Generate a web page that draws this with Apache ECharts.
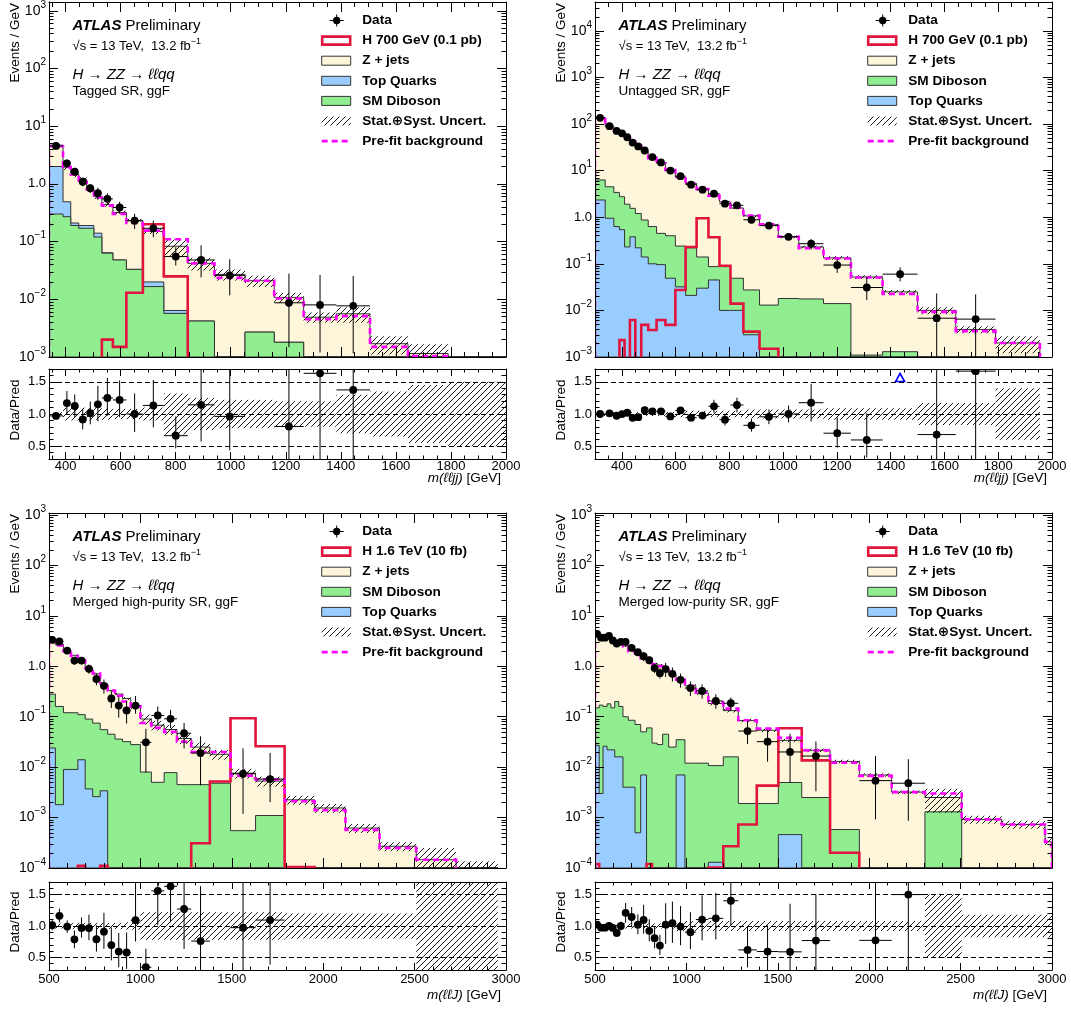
<!DOCTYPE html>
<html>
<head>
<meta charset="utf-8">
<script src="https://cdn.jsdelivr.net/npm/echarts@6/dist/echarts.min.js"></script>
<style>
html, body { margin: 0; padding: 0; background: #fff; }
#chart { width: 1071px; height: 1015px; }
</style>
</head>
<body>
<div id="chart"></div>
<script>
// ---------------- Tagged SR, ggF (top left) ----------------
var tagEdges = [340, 391, 419, 448, 477, 503, 532, 572, 621, 681, 757, 844, 941, 1052, 1158, 1265, 1384, 1506, 1644, 1790, 2000];
var tagZjets = [2.69, 1.45, 1.24, 1.0, 0.64, 0.46, 0.376, 0.272, 0.197, 0.13, 0.0766, 0.0378, 0.027, 0.0183, 0.009, 0.0049, 0.0056, 0.0017, 0.00115, 0];
var tagTop = [1.7, 0.22, 0.02, 0.02, 0.02, 0.02, 0.001, 0, 0, 0.0034, 0.0007, 0, 0, 0, 0, 0, 0, 0, 0, 0];
var tagDiboson = [0.30, 0.27, 0.19, 0.17, 0.17, 0.12, 0.063, 0.048, 0.033, 0.0166, 0.0057, 0.0042, 0, 0.0027, 0.0018, 0, 0, 0, 0, 0];
var tagSignal = [0, 0, 0, 0, 0, 0, 0.002, 0.0015, 0.013, 0.2, 0.025, 0, 0, 0, 0, 0, 0, 0, 0, 0];
var tagPrefit = [4.5, 1.95, 1.45, 1.08, 0.8, 0.58, 0.42, 0.3, 0.21, 0.155, 0.11, 0.042, 0.0235, 0.021, 0.0103, 0.0045, 0.0051, 0.0015, 0.00104, 0];
var tagUnc = [0.03, 0.1, 0.1, 0.1, 0.1, 0.09, 0.09, 0.08, 0.08, 0.1, 0.32, 0.25, 0.22, 0.22, 0.2, 0.2, 0.3, 0.35, 0.45, 0.5];
var tagData = [4.55, 2.27, 1.63, 1.09, 0.84, 0.69, 0.55, 0.39, 0.23, 0.17, 0.055, 0.048, 0.026, null, 0.0087, 0.008, 0.0077, null, null, null];
var tagErrLo = [0.03, 0.15, 0.15, 0.17, 0.17, 0.23, 0.22, 0.22, 0.28, 0.3, 0.3, 0.5, 0.55, 0, 0.83, 0.85, 0.85, 0, 0, 0];
var tagErrHi = [0.03, 0.16, 0.16, 0.18, 0.18, 0.25, 0.25, 0.25, 0.32, 0.35, 0.45, 0.8, 0.9, 0, 2.2, 2.3, 2.3, 0, 0, 0];

// ---------------- Untagged SR, ggF (top right) ----------------
var untEdges = [300, 338, 370, 391, 410, 430, 450, 472, 498, 529, 562, 599, 637, 678, 722, 763, 804, 852, 912, 982, 1058, 1150, 1252, 1370, 1500, 1642, 1790, 1955];
var untZjets = [129.7, 84.5, 69.6, 60.3, 49.1, 41.0, 33.5, 24.6, 18.1, 13.95, 10.0, 6.96, 5.08, 3.86, 2.77, 2.05, 1.53, 1.04, 0.677, 0.362, 0.212, 0.12, 0.0509, 0.0237, 0.01, 0.0039, 0.002];
var untDiboson = [3.96, 3.55, 2.77, 2.21, 1.67, 1.17, 0.98, 0.73, 0.53, 0.354, 0.351, 0.208, 0.199, 0.11, 0.042, 0.077, 0.039, 0.0245, 0.013, 0.018, 0.0176, 0.014, 0.0011, 0.0013, 0, 0, 0];
var untTop = [2.34, 0.95, 0.63, 0.54, 0.23, 0.38, 0.22, 0.14, 0.1, 0.096, 0.049, 0.032, 0.021, 0.03, 0.045, 0.01, 0.01, 0.003, 0, 0, 0, 0, 0, 0, 0, 0, 0];
var untSignal = [0, 0, 0, 0.0023, 0, 0.0062, 0, 0.0049, 0.0038, 0.0062, 0.0049, 0.0275, 0.23, 0.95, 0.37, 0.091, 0.014, 0.0035, 0.0015, 0, 0, 0, 0, 0, 0, 0, 0];
var untPrefit = [138, 90, 73, 63, 51, 42, 34, 25.5, 18.5, 14.3, 10.3, 7.2, 5.3, 4.0, 2.9, 2.1, 1.6, 1.08, 0.7, 0.38, 0.215, 0.13, 0.051, 0.0225, 0.0093, 0.0036, 0.002];
var untUnc = [0.03, 0.03, 0.03, 0.03, 0.03, 0.03, 0.03, 0.03, 0.03, 0.03, 0.03, 0.05, 0.05, 0.05, 0.05, 0.05, 0.05, 0.07, 0.07, 0.07, 0.07, 0.09, 0.09, 0.09, 0.17, 0.17, 0.4];
var untData = [136, 90, 71, 63, 52, 40, 33, 27, 19.5, 15, 10, 7.6, 5.0, 3.9, 3.2, 1.95, 1.8, 0.88, 0.66, 0.38, 0.27, 0.094, 0.031, 0.06, 0.0068, 0.0065, null];
var untErrLo = [0.01, 0.01, 0.015, 0.015, 0.015, 0.02, 0.02, 0.02, 0.025, 0.03, 0.035, 0.04, 0.045, 0.05, 0.09, 0.1, 0.1, 0.12, 0.12, 0.13, 0.25, 0.32, 0.46, 0.3, 0.85, 0.85, 0];
var untErrHi = [0.01, 0.01, 0.015, 0.015, 0.015, 0.02, 0.02, 0.02, 0.025, 0.03, 0.035, 0.04, 0.045, 0.05, 0.09, 0.1, 0.1, 0.12, 0.12, 0.13, 0.25, 0.35, 0.7, 0.4, 2.4, 2.4, 0];

// ---------------- Merged high-purity SR, ggF (bottom left) ----------------
var hpEdges = [500, 535, 579, 620, 658, 698, 739, 780, 821, 861, 902, 947, 1000, 1060, 1130, 1200, 1278, 1380, 1493, 1630, 1789, 1953, 2122, 2308, 2509, 2727, 2955];
var hpZjets = [3.02, 2.51, 1.95, 1.53, 1.23, 0.83, 0.635, 0.395, 0.285, 0.244, 0.198, 0.124, 0.082, 0.063, 0.048, 0.0325, 0.0205, 0.0132, 0.00705, 0.0042, 0.00225, 0.00155, 0.00062, 0.00027, 0.000146, 0.00008];
var hpDiboson = [0.256, 0.158, 0.111, 0.111, 0.096, 0.086, 0.072, 0.052, 0.045, 0.036, 0.032, 0.028, 0.008, 0.005, 0.0078, 0.0045, 0.0045, 0.0048, 0.00055, 0.0011, 0, 0, 0, 0, 0, 0];
var hpTop = [0.024, 0.0018, 0.009, 0.009, 0.014, 0.0037, 0.0026, 0.0034, 0, 0, 0, 0, 0, 0, 0, 0, 0, 0, 0, 0, 0, 0, 0, 0, 0, 0];
var hpSignal = [0, 0, 0, 0, 0.00011, 0, 0, 0.00011, 0, 0, 0, 0, 0, 0, 0, 0, 0.00031, 0.0052, 0.093, 0.026, 0.000105, 0, 0, 0, 0, 0];
var hpPrefit = [3.2, 2.6, 2.0, 1.6, 1.3, 0.92, 0.72, 0.46, 0.33, 0.26, 0.2, 0.16, 0.075, 0.06, 0.05, 0.032, 0.02, 0.02, 0.0068, 0.0057, 0.0021, 0.0014, 0.00057, 0.00025, 0.000146, 0];
var hpUnc = [0.04, 0.04, 0.05, 0.05, 0.05, 0.05, 0.05, 0.05, 0.05, 0.05, 0.06, 0.06, 0.22, 0.22, 0.22, 0.22, 0.22, 0.22, 0.22, 0.22, 0.2, 0.2, 0.2, 0.2, 0.7, 0.7];
var hpData = [3.34, 3.1, 2.05, 1.3, 1.3, 0.89, 0.56, 0.41, 0.23, 0.166, 0.133, 0.166, 0.031, 0.106, 0.091, 0.047, 0.019, null, 0.0074, 0.0058, null, null, null, null, null, null];
var hpErrLo = [0.08, 0.09, 0.1, 0.18, 0.16, 0.2, 0.25, 0.3, 0.35, 0.42, 0.45, 0.31, 0.75, 0.35, 0.35, 0.5, 0.77, 0, 0.84, 0.65, 0, 0, 0, 0, 0, 0];
var hpErrHi = [0.08, 0.1, 0.1, 0.18, 0.17, 0.22, 0.28, 0.33, 0.4, 0.5, 0.55, 0.55, 0.86, 0.5, 0.5, 0.6, 1.15, 0, 2.2, 2.3, 0, 0, 0, 0, 0, 0];

// ---------------- Merged low-purity SR, ggF (bottom right) ----------------
var lpEdges = [500, 523, 544, 566, 587, 608, 630, 653, 682, 719, 750, 782, 812, 840, 870, 903, 944, 992, 1052, 1120, 1202, 1284, 1385, 1503, 1631, 1786, 1946, 2123, 2305, 2506, 2725, 2962, 3000];
var lpZjets = [4.15, 3.63, 3.64, 3.82, 3.2, 2.98, 2.9, 2.43, 1.945, 1.79, 1.39, 1.37, 1.11, 1.032, 0.815, 0.655, 0.51, 0.398, 0.283, 0.172, 0.116, 0.082, 0.052, 0.029, 0.0191, 0.0124, 0.007, 0.0032, 0.0012, 0.00092, 0.00073, 0.00033];
var lpDiboson = [0.123, 0.167, 0.134, 0.158, 0.128, 0.184, 0.144, 0.096, 0.081, 0.0695, 0.043, 0.06, 0.03, 0.028, 0.045, 0.025, 0.028, 0.012, 0.012, 0.0106, 0.016, 0.0019, 0.0019, 0.0045, 0.0025, 0.00058, 0, 0, 0.0013, 0, 0, 0];
var lpTop = [0.027, 0.003, 0.026, 0.022, 0.022, 0.016, 0.016, 0.004, 0.004, 0.0005, 0.007, 0, 0, 0, 0, 0, 0.007, 0, 0, 0.00013, 0, 0, 0, 0.00046, 0, 0, 0, 0, 0, 0, 0, 0];
var lpSignal = [0.00012, 0, 0, 0, 0, 0, 0, 0, 0, 0, 0, 0.00012, 0, 0, 0, 0, 0, 0, 0, 0.000102, 0.00027, 0.00073, 0.0043, 0.059, 0.0136, 0.0002, 0, 0, 0, 0, 0, 0];
var lpPrefit = [4.3, 3.8, 3.75, 3.9, 3.3, 3.1, 3.0, 2.5, 2.0, 1.8, 1.45, 1.38, 1.1, 1.0, 0.85, 0.68, 0.54, 0.41, 0.3, 0.19, 0.145, 0.085, 0.058, 0.038, 0.0215, 0.0122, 0.0067, 0.0032, 0.003, 0.00092, 0.00073, 0.00033];
var lpUnc = [0.04, 0.04, 0.04, 0.04, 0.04, 0.04, 0.04, 0.04, 0.04, 0.04, 0.04, 0.04, 0.04, 0.04, 0.04, 0.04, 0.08, 0.08, 0.08, 0.08, 0.08, 0.08, 0.08, 0.08, 0.08, 0.08, 0.08, 0.08, 0.5, 0.18, 0.18, 0.18];
var lpData = [4.4, 3.7, 3.7, 4.0, 3.25, 2.83, 3.06, 3.06, 2.32, 1.9, 1.58, 1.32, 0.92, 0.73, 0.88, 0.71, 0.54, 0.37, 0.325, 0.205, 0.185, 0.052, 0.032, 0.02, 0.0166, null, 0.0054, 0.0048, null, null, null, null];
var lpErrLo = [0.05, 0.05, 0.05, 0.06, 0.06, 0.07, 0.07, 0.13, 0.14, 0.15, 0.2, 0.18, 0.2, 0.22, 0.3, 0.3, 0.3, 0.3, 0.3, 0.3, 0.28, 0.45, 0.6, 0.75, 0.8, 0, 0.83, 0.82, 0, 0, 0, 0];
var lpErrHi = [0.05, 0.05, 0.05, 0.06, 0.06, 0.07, 0.07, 0.13, 0.14, 0.16, 0.22, 0.2, 0.22, 0.25, 0.33, 0.33, 0.33, 0.35, 0.35, 0.36, 0.3, 0.6, 0.7, 1.3, 0.95, 0, 2.1, 2.0, 0, 0, 0, 0];

// ---------------- tick labels ----------------
var xTicksLow = [400, 600, 800, 1000, 1200, 1400, 1600, 1800, 2000];
var xTicksHigh = [500, 1000, 1500, 2000, 2500, 3000];
var yTicksLog = [1e-4, 1e-3, 1e-2, 1e-1, 1, 10, 100, 1000, 10000];
var yTicksRatio = [0.5, 1.0, 1.5];

var FONT = "'Liberation Sans', 'DejaVu Sans', Arial, sans-serif";
var C_ZJ = '#fef6da', C_TOP = '#99ccff', C_DB = '#90ee90', C_SIG = '#e0143c', C_PRE = '#ff00ff';
var RMIN = 0.3, RMAX = 1.7;

function makeHatch() {
    var c = document.createElement('canvas');
    c.width = 6; c.height = 6;
    var g = c.getContext('2d');
    g.strokeStyle = '#000';
    g.lineWidth = 0.9;
    g.beginPath();
    g.moveTo(0, 6); g.lineTo(6, 0);
    g.moveTo(-1, 1); g.lineTo(1, -1);
    g.moveTo(5, 7); g.lineTo(7, 5);
    g.stroke();
    return c;
}
var HATCH_IMG = makeHatch();
function hatch() { return { image: HATCH_IMG, repeat: 'repeat' }; }

var panels = [
    { left: 49, top: 2, mainH: 355, ratioTop: 369, ratioH: 90, xMin: 340, xMax: 2000, yMin: 1e-3, yMax: 1419,
      xMajor: xTicksLow, xStep: 50, edges: tagEdges,
      layers: [{ v: tagDiboson, c: C_DB, name: 'SM Diboson' }, { v: tagTop, c: C_TOP, name: 'Top Quarks' }, { v: tagZjets, c: C_ZJ, name: 'Z + jets' }],
      signal: tagSignal, prefit: tagPrefit, unc: tagUnc, data: tagData, lo: tagErrLo, hi: tagErrHi,
      sigName: 'H 700 GeV (0.1 pb)', region: 'Tagged SR, ggF', xVar: 'm(\u2113\u2113jj)', titleY: 478, labelMargin: 1 },
    { left: 595, top: 2, mainH: 355, ratioTop: 369, ratioH: 90, xMin: 300, xMax: 2000, yMin: 1e-3, yMax: 41500,
      xMajor: xTicksLow, xStep: 50, edges: untEdges,
      layers: [{ v: untTop, c: C_TOP, name: 'Top Quarks' }, { v: untDiboson, c: C_DB, name: 'SM Diboson' }, { v: untZjets, c: C_ZJ, name: 'Z + jets' }],
      signal: untSignal, prefit: untPrefit, unc: untUnc, data: untData, lo: untErrLo, hi: untErrHi,
      sigName: 'H 700 GeV (0.1 pb)', region: 'Untagged SR, ggF', xVar: 'm(\u2113\u2113jj)', titleY: 478, labelMargin: 1 },
    { left: 49, top: 513, mainH: 355, ratioTop: 882, ratioH: 88, xMin: 500, xMax: 3000, yMin: 1e-4, yMax: 1096,
      xMajor: xTicksHigh, xStep: 100, edges: hpEdges,
      layers: [{ v: hpTop, c: C_TOP, name: 'Top Quarks' }, { v: hpDiboson, c: C_DB, name: 'SM Diboson' }, { v: hpZjets, c: C_ZJ, name: 'Z + jets' }],
      signal: hpSignal, prefit: hpPrefit, unc: hpUnc, data: hpData, lo: hpErrLo, hi: hpErrHi,
      sigName: 'H 1.6 TeV (10 fb)', region: 'Merged high-purity SR, ggF', xVar: 'm(\u2113\u2113J)', titleY: 995, labelMargin: 3 },
    { left: 595, top: 513, mainH: 355, ratioTop: 882, ratioH: 88, xMin: 500, xMax: 3000, yMin: 1e-4, yMax: 1096,
      xMajor: xTicksHigh, xStep: 100, edges: lpEdges,
      layers: [{ v: lpTop, c: C_TOP, name: 'Top Quarks' }, { v: lpDiboson, c: C_DB, name: 'SM Diboson' }, { v: lpZjets, c: C_ZJ, name: 'Z + jets' }],
      signal: lpSignal, prefit: lpPrefit, unc: lpUnc, data: lpData, lo: lpErrLo, hi: lpErrHi,
      sigName: 'H 1.6 TeV (10 fb)', region: 'Merged low-purity SR, ggF', xVar: 'm(\u2113\u2113J)', titleY: 995, labelMargin: 3 }
];
var W = 457;

function minorLinear(lo, hi, step, majors) {
    var out = [];
    for (var v = Math.ceil(lo / step - 1e-9) * step; v <= hi + 1e-9; v += step) {
        var r = Math.round(v * 1000) / 1000;
        if (!majors.some(function (m) { return Math.abs(m - r) < 1e-6; })) out.push(r);
    }
    return out;
}
function minorLog(lo, hi) {
    var out = [];
    for (var e = Math.floor(Math.log10(lo)); e <= Math.ceil(Math.log10(hi)); e++) {
        for (var k = 2; k <= 9; k++) {
            var v = k * Math.pow(10, e);
            if (v >= lo && v <= hi) out.push(v);
        }
    }
    return out;
}
function totals(P) {
    var n = P.edges.length - 1, t = [];
    for (var i = 0; i < n; i++) {
        var s = 0;
        P.layers.forEach(function (L) { s += L.v[i]; });
        t.push(s);
    }
    return t;
}

function fmtLog(v) {
    var e = Math.round(Math.log10(v));
    if (e === 0) return '{n|1.0}';
    return '{b|10}{s|' + (e < 0 ? '\u2212' + (-e) : e) + '}';
}
var LOG_RICH = {
    n: { fontSize: 13, fontFamily: FONT, color: '#000', lineHeight: 22 },
    b: { fontSize: 14, fontFamily: FONT, color: '#000', lineHeight: 22 },
    s: { fontSize: 10, fontFamily: FONT, color: '#000', lineHeight: 11, verticalAlign: 'top' }
};

// ---------- step helpers (all points go through the axis scales) ----------
function stepPolygon(api, edges, vals, yMin) {
    var pts = [api.coord([edges[0], yMin])];
    for (var i = 0; i < vals.length; i++) {
        var v = vals[i] > yMin ? vals[i] : yMin;
        pts.push(api.coord([edges[i], v]), api.coord([edges[i + 1], v]));
    }
    pts.push(api.coord([edges[vals.length], yMin]));
    return pts;
}
function stepSegments(api, edges, vals, yMin) {
    var lines = [], cur = null;
    for (var i = 0; i < vals.length; i++) {
        var v = vals[i] > yMin ? vals[i] : yMin;
        if (v > yMin) {
            if (!cur) cur = [api.coord([edges[i], yMin])];
            cur.push(api.coord([edges[i], v]), api.coord([edges[i + 1], v]));
        } else if (cur) {
            cur.push(api.coord([edges[i], yMin]));
            lines.push(cur); cur = null;
        }
    }
    if (cur) { cur.push(api.coord([edges[vals.length], yMin])); lines.push(cur); }
    return lines;
}
function seg(a, b, color, w) {
    return { type: 'line', shape: { x1: a[0], y1: a[1], x2: b[0], y2: b[1] }, style: { stroke: color || '#000', lineWidth: w || 1 } };
}

function mainRender(P) {
    return function (params, api) {
        var kids = [], yMin = P.yMin, E = P.edges, n = E.length - 1;
        var run = new Array(n).fill(0), cum = [];
        P.layers.forEach(function (L) {
            run = run.map(function (s, i) { return s + L.v[i]; });
            cum.push({ v: run.slice(), c: L.c });
        });
        for (var k = cum.length - 1; k >= 0; k--) {
            kids.push({ type: 'polygon', shape: { points: stepPolygon(api, E, cum[k].v, yMin) },
                style: { fill: cum[k].c, stroke: '#333', lineWidth: 1 } });
        }
        var tot = cum[cum.length - 1].v;
        for (var i = 0; i < n; i++) {
            if (tot[i] <= 0) continue;
            var a = api.coord([E[i], tot[i] * (1 + P.unc[i])]);
            var b = api.coord([E[i + 1], Math.max(tot[i] * (1 - P.unc[i]), yMin)]);
            kids.push({ type: 'rect', shape: { x: a[0], y: a[1], width: b[0] - a[0], height: b[1] - a[1] },
                style: { fill: hatch(), stroke: null } });
        }
        stepSegments(api, E, P.signal, yMin).forEach(function (pts) {
            kids.push({ type: 'polyline', shape: { points: pts }, style: { stroke: C_SIG, lineWidth: 2.6, fill: 'none' } });
        });
        stepSegments(api, E, P.prefit, yMin).forEach(function (pts) {
            kids.push({ type: 'polyline', shape: { points: pts }, style: { stroke: C_PRE, lineWidth: 2.6, fill: 'none', lineDash: [6, 4] } });
        });
        for (var j = 0; j < n; j++) {
            var d = P.data[j];
            if (d === null) continue;
            var xc = (E[j] + E[j + 1]) / 2;
            kids.push(seg(api.coord([xc, d * (1 - P.lo[j])]), api.coord([xc, d * (1 + P.hi[j])])));
            kids.push(seg(api.coord([E[j], d]), api.coord([E[j + 1], d])));
            var p = api.coord([xc, d]);
            kids.push({ type: 'circle', shape: { cx: p[0], cy: p[1], r: 3.9 }, style: { fill: '#000' } });
        }
        return { type: 'group', children: kids };
    };
}

function ratioRender(P) {
    return function (params, api) {
        var kids = [], E = P.edges, n = E.length - 1, tot = totals(P);
        for (var i = 0; i < n; i++) {
            var a = api.coord([E[i], 1 + P.unc[i]]);
            var b = api.coord([E[i + 1], 1 - P.unc[i]]);
            kids.push({ type: 'rect', shape: { x: a[0], y: a[1], width: b[0] - a[0], height: b[1] - a[1] },
                style: { fill: hatch(), stroke: null } });
        }
        for (var j = 0; j < n; j++) {
            var d = P.data[j];
            if (d === null || tot[j] <= 0) continue;
            var r = d / tot[j], xc = (E[j] + E[j + 1]) / 2;
            if (r > RMAX) {
                var q = api.coord([xc, 1.56]);
                kids.push({ type: 'polygon', shape: { points: [[q[0], q[1] - 4.5], [q[0] - 4.5, q[1] + 3.5], [q[0] + 4.5, q[1] + 3.5]] },
                    style: { fill: 'none', stroke: '#0000ff', lineWidth: 1.6 } });
                continue;
            }
            kids.push(seg(api.coord([xc, r * (1 - P.lo[j])]), api.coord([xc, r * (1 + P.hi[j])])));
            kids.push(seg(api.coord([E[j], r]), api.coord([E[j + 1], r])));
            var p = api.coord([xc, r]);
            kids.push({ type: 'circle', shape: { cx: p[0], cy: p[1], r: 3.9 }, style: { fill: '#000' } });
        }
        return { type: 'group', children: kids };
    };
}

// ---------- axes ----------
function xAxisDef(g, P, pos, major, isRatio) {
    var vals = major ? P.xMajor : minorLinear(P.xMin, P.xMax, P.xStep, P.xMajor);
    var len = isRatio ? (major ? 7 : 3.5) : (major ? 10 : 5);
    return {
        type: 'value', gridIndex: g, position: pos, min: P.xMin, max: P.xMax, z: 10,
        axisLine: { show: major, onZero: false, lineStyle: { color: '#000', width: 1 } },
        axisTick: { show: true, inside: true, length: len, customValues: vals, lineStyle: { color: '#000', width: 1 } },
        axisLabel: { show: major && isRatio && pos === 'bottom', customValues: vals, margin: P.labelMargin,
            color: '#000', fontSize: 13, fontFamily: FONT, formatter: function (v) { return String(v); } },
        splitLine: { show: false }
    };
}
function yAxisDef(g, P, pos, major, isRatio) {
    var vals;
    if (isRatio) vals = major ? yTicksRatio : minorLinear(RMIN, RMAX, 0.1, yTicksRatio);
    else vals = major ? yTicksLog.filter(function (v) { return v >= P.yMin && v <= P.yMax; }) : minorLog(P.yMin, P.yMax);
    var ax = {
        type: isRatio ? 'value' : 'log', gridIndex: g, position: pos, z: 10,
        min: isRatio ? RMIN : P.yMin, max: isRatio ? RMAX : P.yMax,
        axisLine: { show: major, onZero: false, lineStyle: { color: '#000', width: 1 } },
        axisTick: { show: true, inside: true, length: major ? 9 : 4.5, customValues: vals, lineStyle: { color: '#000', width: 1 } },
        axisLabel: { show: major && pos === 'left', customValues: vals, margin: 3, color: '#000', fontSize: 13, fontFamily: FONT,
            formatter: isRatio ? function (v) { return v.toFixed(1); } : fmtLog, rich: LOG_RICH },
        splitLine: { show: isRatio && major && pos === 'left', lineStyle: { color: '#000', width: 1, type: [5, 3] } }
    };
    if (!isRatio) ax.logBase = 10;
    return ax;
}

var grids = [], xAxes = [], yAxes = [], series = [], graphics = [];

function txt(x, y, text, size, extra) {
    var st = { text: text, fontFamily: FONT, fontSize: size, fill: '#000',
        align: 'left', textAlign: 'left', verticalAlign: 'middle', textVerticalAlign: 'middle' };
    for (var k in (extra || {})) st[k] = extra[k];
    return { type: 'text', x: x, y: y, z: 30, silent: true, style: st };
}
function rs(size, weight, style, more) {
    var o = { fontSize: size, fontFamily: FONT, fontWeight: weight || 'normal', fontStyle: style || 'normal', fill: '#000', color: '#000' };
    for (var k in (more || {})) o[k] = more[k];
    return o;
}

panels.forEach(function (P) {
    [false, true].forEach(function (isRatio) {
        var g = grids.length;
        grids.push({ left: P.left, top: isRatio ? P.ratioTop : P.top, width: W, height: isRatio ? P.ratioH : P.mainH,
            containLabel: false, outerBoundsMode: 'none', show: false });
        var xi = xAxes.length;
        ['bottom', 'top'].forEach(function (pos) {
            xAxes.push(xAxisDef(g, P, pos, true, isRatio));
            xAxes.push(xAxisDef(g, P, pos, false, isRatio));
        });
        var yi = yAxes.length;
        ['left', 'right'].forEach(function (pos) {
            yAxes.push(yAxisDef(g, P, pos, true, isRatio));
            yAxes.push(yAxisDef(g, P, pos, false, isRatio));
        });
        series.push({ type: 'custom', coordinateSystem: 'cartesian2d', xAxisIndex: xi, yAxisIndex: yi, clip: true, silent: true, z: 2,
            data: [[P.xMin, isRatio ? 1 : P.yMin]], renderItem: isRatio ? ratioRender(P) : mainRender(P) });
    });

    var ox = P.left, oy = P.top, tx = ox + 23.5;
    // annotations
    graphics.push(txt(tx, oy + 24, '{a|ATLAS} {b|Preliminary}', 15, { rich: { a: rs(15, 'bold', 'italic'), b: rs(15) } }));
    graphics.push(txt(tx, oy + 44, '\u221As = 13 TeV,  13.2 fb{s|\u22121}', 13,
        { rich: { s: rs(9, 'normal', 'normal', { verticalAlign: 'top', lineHeight: 9 }) }, lineHeight: 18 }));
    graphics.push(txt(tx, oy + 73, '{i|H} \u2192 {i|ZZ} \u2192 {i|\u2113\u2113qq}', 15, { rich: { i: rs(15, 'normal', 'italic') } }));
    graphics.push(txt(tx, oy + 89.5, P.region, 13.5));
    // axis titles
    graphics.push({ type: 'text', x: ox - 34, y: oy + 1, rotation: Math.PI / 2, z: 30, silent: true,
        style: { text: 'Events / GeV', fontFamily: FONT, fontSize: 13.5, fill: '#000', align: 'right', textAlign: 'right', verticalAlign: 'middle', textVerticalAlign: 'middle' } });
    graphics.push({ type: 'text', x: ox - 34, y: P.ratioTop + P.ratioH / 2 - 4, rotation: Math.PI / 2, z: 30, silent: true,
        style: { text: 'Data/Pred', fontFamily: FONT, fontSize: 13.5, fill: '#000', align: 'center', textAlign: 'center', verticalAlign: 'middle', textVerticalAlign: 'middle' } });
    graphics.push(txt(ox + W - 5, P.titleY, '{i|' + P.xVar + '} [GeV]', 13.5,
        { align: 'right', textAlign: 'right', rich: { i: rs(13.5, 'normal', 'italic') } }));

    // legend
    var bx = ox + 272.7, bw = 29, lx = ox + 313.3;
    var rows = [];
    rows.push({ kind: 'data', name: 'Data' });
    rows.push({ kind: 'sig', name: P.sigName });
    for (var k = P.layers.length - 1; k >= 0; k--) rows.push({ kind: 'box', name: P.layers[k].name, c: P.layers[k].c });
    rows.push({ kind: 'hatch', name: 'Stat.\u2295Syst. Uncert.' });
    rows.push({ kind: 'pre', name: 'Pre-fit background' });
    rows.forEach(function (R, idx) {
        var y = oy + 18.5 + idx * 20.1;
        if (R.kind === 'data') {
            var cx = ox + 287.7;
            graphics.push({ type: 'line', z: 30, silent: true, shape: { x1: cx - 7, y1: y, x2: cx + 7, y2: y }, style: { stroke: '#000', lineWidth: 1 } });
            graphics.push({ type: 'line', z: 30, silent: true, shape: { x1: cx, y1: y - 6, x2: cx, y2: y + 6 }, style: { stroke: '#000', lineWidth: 1 } });
            graphics.push({ type: 'circle', z: 31, silent: true, shape: { cx: cx, cy: y, r: 3.7 }, style: { fill: '#000' } });
        } else if (R.kind === 'sig') {
            graphics.push({ type: 'rect', z: 30, silent: true, shape: { x: bx + 0.5, y: y - 4, width: bw - 1, height: 8 }, style: { fill: '#fff', stroke: C_SIG, lineWidth: 2.6 } });
        } else if (R.kind === 'box') {
            graphics.push({ type: 'rect', z: 30, silent: true, shape: { x: bx, y: y - 4.5, width: bw, height: 9 }, style: { fill: R.c, stroke: '#333', lineWidth: 1 } });
        } else if (R.kind === 'hatch') {
            graphics.push({ type: 'rect', z: 30, silent: true, shape: { x: bx, y: y - 4.5, width: bw, height: 9 }, style: { fill: hatch(), stroke: null } });
        } else {
            graphics.push({ type: 'line', z: 30, silent: true, shape: { x1: bx, y1: y, x2: bx + bw, y2: y }, style: { stroke: C_PRE, lineWidth: 2.6, lineDash: [6, 4] } });
        }
        graphics.push(txt(lx, y, R.name, 13.6, { fontWeight: 'bold' }));
    });
});

var chart = echarts.init(document.getElementById('chart'));
chart.setOption({
    animation: false,
    backgroundColor: '#fff',
    grid: grids,
    xAxis: xAxes,
    yAxis: yAxes,
    series: series,
    graphic: graphics
});
</script>
</body>
</html>
